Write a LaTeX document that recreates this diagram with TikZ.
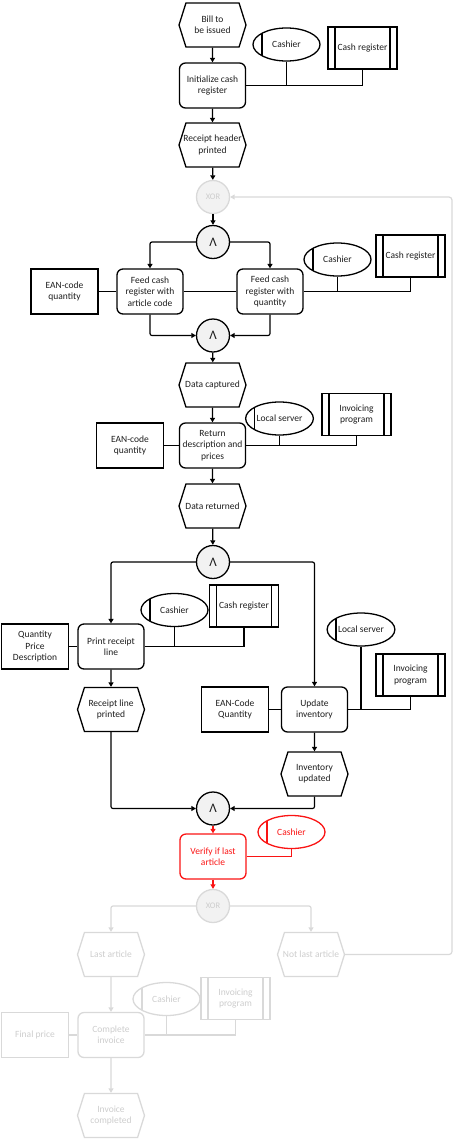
\documentclass[tikz,border=0pt]{standalone}
\usepackage{fontspec}
\setmainfont{Carlito}
\usetikzlibrary{arrows.meta,positioning,shapes.geometric,shapes.symbols}
\definecolor{epcfade}{RGB}{217,217,217}
\definecolor{epcfadetext}{RGB}{205,205,205}
\definecolor{epcred}{RGB}{250,20,20}
\definecolor{epcgate}{RGB}{242,242,242}
\definecolor{epcink}{RGB}{30,30,30}
\tikzset{
  epctext/.style={font=\fontsize{9.5}{11.3}\selectfont, align=center, inner sep=1pt, text=epcink},
  evt/.style={epctext, signal, signal to=east and west, signal pointer angle=145, inner xsep=-4pt,
              draw=#1, line width=1.3pt, minimum width=67pt, minimum height=44pt},
  evt/.default=black,
  fn/.style={epctext, rectangle, rounded corners=6pt, draw=#1, line width=1.3pt,
             minimum width=66pt, minimum height=45pt},
  fn/.default=black,
  dat/.style={epctext, rectangle, draw=#1, line width=1.3pt,
              minimum width=67pt, minimum height=45pt},
  dat/.default=black,
  org/.style={epctext, ellipse, draw=#1, line width=1.3pt, minimum width=67pt, minimum height=33pt,
              path picture={\draw[#1, line width=1.3pt]
                ([xshift=9pt]path picture bounding box.south west) -- ([xshift=9pt]path picture bounding box.north west);}},
  org/.default=black,
  sys/.style={epctext, rectangle, draw=#1, line width=1.3pt, minimum width=69pt, minimum height=42pt,
              path picture={\draw[#1, line width=1.3pt]
                ([xshift=7pt]path picture bounding box.south west) -- ([xshift=7pt]path picture bounding box.north west)
                ([xshift=-7pt]path picture bounding box.south east) -- ([xshift=-7pt]path picture bounding box.north east);}},
  sys/.default=black,
  gate/.style={circle, draw=black, fill=epcgate, line width=1.3pt, minimum size=33pt, inner sep=0pt,
               text=epcink, font=\fontsize{13}{13}\selectfont},
  xorgate/.style={gate, draw=epcfade, text=epcfadetext, font=\fontsize{8.5}{8.5}\selectfont},
  flow/.style={-{Triangle[length=4.5pt,width=5pt]}, line width=1.2pt, rounded corners=2pt},
  link/.style={line width=1.2pt},
  faded/.style={text=epcfadetext},
}

\begin{document}
\begin{tikzpicture}[x=1pt, y=-1pt]
  \useasboundingbox (0,0) rectangle (454,1141);

  % start
  \node[evt] (bill)     at (212.5,25)  {Bill to\\be issued};
  \node[fn]  (init)     at (212.5,85.5) {Initialize cash\\register};
  \node[org] (cashier1) at (286.5,44.5) {Cashier};
  \node[sys] (cashreg1) at (362.5,48)  {Cash register};
  \node[evt] (header)   at (212.5,145) {Receipt header\\printed};
  \node[xorgate] (xor1) at (213,197)   {XOR};

  % capture article
  \node[gate] (and1)    at (213,242)   {Λ};
  \node[fn]  (feed1)    at (150,291.5) {Feed cash\\register with\\article code};
  \node[fn]  (feed2)    at (270,291.5) {Feed cash\\register with\\quantity};
  \node[dat] (ean1)     at (64.5,291.5) {EAN-code\\quantity};
  \node[org] (cashier2) at (337.5,259.5) {Cashier};
  \node[sys] (cashreg2) at (410.5,256) {Cash register};
  \node[gate] (and2)    at (213,335.5) {Λ};
  \node[evt] (captured) at (212.5,385) {Data captured};
  \node[fn]  (ret)      at (212.5,445.5) {Return\\description and\\prices};
  \node[dat] (ean2)     at (130,445.5) {EAN-code\\quantity};
  \node[org] (server1)  at (279.5,418.5) {Local server};
  \node[sys] (invprog1) at (356.5,414.5) {Invoicing\\program};
  \node[evt] (returned) at (212.5,506) {Data returned};

  % print and update
  \node[gate] (and3)    at (213,562)   {Λ};
  \node[fn]  (print)    at (111,646.5) {Print receipt\\line};
  \node[dat] (qpd)      at (35,646.5)  {Quantity\\Price\\Description};
  \node[org] (cashier3) at (174.5,610) {Cashier};
  \node[sys] (cashreg3) at (244,606)   {Cash register};
  \node[evt] (rlprinted) at (111,709.5) {Receipt line\\printed};
  \node[fn]  (update)   at (314.5,709.5) {Update\\inventory};
  \node[dat] (ean3)     at (235,709.5) {EAN-Code\\Quantity};
  \node[org] (server2)  at (361,629.5) {Local server};
  \node[sys] (invprog2) at (410.5,675) {Invoicing\\program};
  \node[evt] (invupd)   at (314.5,774) {Inventory\\updated};
  \node[gate] (and4)    at (213,808.5) {Λ};

  % check
  \node[fn=epcred, text=epcred]  (verify)   at (213,856.5) {Verify if last\\article};
  \node[org=epcred, text=epcred] (cashier4) at (291.5,832) {Cashier};
  \node[xorgate] (xor2) at (213,906)   {XOR};

  % end (faded)
  \node[evt=epcfade, faded] (last)     at (111,954.5) {Last article};
  \node[evt=epcfade, faded] (notlast)  at (311,954.5) {Not last article};
  \node[fn=epcfade, faded]  (complete) at (111,1035) {Complete\\invoice};
  \node[dat=epcfade, faded] (final)    at (35,1035)  {Final price};
  \node[org=epcfade, faded] (cashier5) at (166.5,999) {Cashier};
  \node[sys=epcfade, faded] (invprog3) at (235.5,998.5) {Invoicing\\program};
  \node[evt=epcfade, faded] (invdone)  at (111,1115.5) {Invoice\\completed};
  \coordinate (loop) at (452,197);

  % control flow
  \draw[flow] (bill) -- (init);
  \draw[flow] (init) -- (header);
  \draw[flow] (header) -- (xor1);
  \draw[flow] (xor1) -- (and1);
  \draw[flow] (and1.west) -| (feed1.north);
  \draw[flow] (and1.east) -| (feed2.north);
  \draw[flow] (feed1.south) |- (and2.west);
  \draw[flow] (feed2.south) |- (and2.east);
  \draw[flow] (and2) -- (captured);
  \draw[flow] (captured) -- (ret);
  \draw[flow] (ret) -- (returned);
  \draw[flow] (returned) -- (and3);
  \draw[flow] (and3.west) -| (print.north);
  \draw[flow] (and3.east) -| (update.north);
  \draw[flow] (print) -- (rlprinted);
  \draw[flow] (update) -- (invupd);
  \draw[flow] (rlprinted.south) |- (and4.west);
  \draw[flow] (invupd.south) |- (and4.east);
  \draw[flow, epcred] (and4) -- (verify);
  \draw[flow, epcred] (verify) -- (xor2);
  \draw[flow, epcfade] (xor2.west) -| (last.north);
  \draw[flow, epcfade] (xor2.east) -| (notlast.north);
  \draw[flow, epcfade] (last) -- (complete);
  \draw[flow, epcfade] (complete) -- (invdone);
  \draw[flow, epcfade, rounded corners=3pt] (notlast.east) -| (loop) -- (xor1.east);

  % data and resources
  \draw[link] (ean1) -- (feed1);
  \draw[link] (feed1) -- (feed2);
  \draw[link] (ean2) -- (ret);
  \draw[link] (qpd) -- (print);
  \draw[link] (ean3) -- (update);
  \draw[link, epcfade] (final) -- (complete);
  \foreach \fun/\who/\what in {init/cashier1/cashreg1, feed2/cashier2/cashreg2, ret/server1/invprog1,
                               print/cashier3/cashreg3, update/server2/invprog2} {
    \draw[link] (\fun.east) -| (\what.south);
    \draw[link] (\who.south) -- (\who.south |- \fun.east);
  }
  \draw[link, epcred] (verify.east) -| (cashier4.south);
  \draw[link, epcfade] (complete.east) -| (invprog3.south);
  \draw[link, epcfade] (cashier5.south) -- (cashier5.south |- complete.east);
\end{tikzpicture}
\end{document}
